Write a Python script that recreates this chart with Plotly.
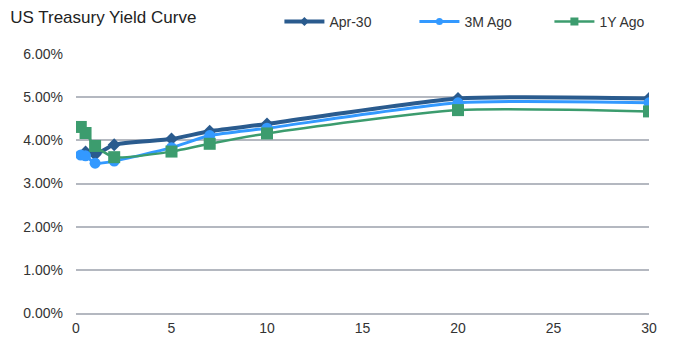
import plotly.graph_objects as go

# Maturities in years
tenor_apr = [0.5, 1, 2, 5, 7, 10, 20, 30]
tenor_3m = [0.25, 0.5, 1, 2, 5, 7, 10, 20, 30]
tenor_1y = [0.25, 0.5, 1, 2, 5, 7, 10, 20, 30]

# Yields (%)
yield_apr = [3.73, 3.67, 3.90, 4.03, 4.21, 4.38, 4.97, 4.97]
yield_3m = [3.66, 3.64, 3.47, 3.52, 3.83, 4.11, 4.28, 4.87, 4.87]
yield_1y = [4.31, 4.17, 3.87, 3.61, 3.74, 3.92, 4.16, 4.70, 4.67]

series = [
    ("Apr-30", tenor_apr, yield_apr, "#2A5B8E", 4, "diamond", 10, 7),
    ("3M Ago", tenor_3m, yield_3m, "#3399FF", 3, "circle", 11, 7),
    ("1Y Ago", tenor_1y, yield_1y, "#3C9C6E", 2.5, "square", 12, 8),
]

fig = go.Figure()
for name, xs, ys, color, lw, sym, msize, legsize in series:
    fig.add_trace(go.Scatter(
        x=xs, y=ys, name=name, mode="lines+markers", showlegend=False,
        line=dict(color=color, width=lw, shape="spline", smoothing=0.6),
        marker=dict(symbol=sym, size=msize, color=color),
    ))
    # legend entry with a smaller marker
    fig.add_trace(go.Scatter(
        x=[None], y=[None], name=name, mode="lines+markers",
        line=dict(color=color, width=lw),
        marker=dict(symbol=sym, size=legsize, color=color),
    ))

fig.update_layout(
    width=681, height=338,
    margin=dict(l=76, r=32, t=54, b=25, autoexpand=False),
    paper_bgcolor="white", plot_bgcolor="white",
    font=dict(family="Liberation Sans, Arial, sans-serif", size=14, color="#333333"),
    title=dict(text="US Treasury Yield Curve", x=0.015, xanchor="left",
               y=0.95, yanchor="middle",
               font=dict(family="Liberation Sans Narrow, Liberation Sans, sans-serif", size=17, color="#222222")),
    legend=dict(orientation="h", x=0.355, xanchor="left", y=0.935, yanchor="middle",
                yref="container", font=dict(size=14, color="#333333",
                family="Liberation Sans Narrow, Liberation Sans, sans-serif"),
                itemwidth=40, entrywidth=80, entrywidthmode="pixels", tracegroupgap=0),
    showlegend=True,
)
fig.update_xaxes(range=[0, 30], tick0=0, dtick=5, showgrid=False, zeroline=False,
                 showline=True, linecolor="#B4B8C0", linewidth=1.5, ticks="",
                 automargin=False, ticklabelstandoff=1,
                 tickfont=dict(size=14, color="#333333"))
fig.update_yaxes(range=[0, 6], dtick=1, showgrid=True, gridcolor="#B4B8C0", gridwidth=1.5,
                 zeroline=False, ticksuffix=".00%", tickformat="d", ticklabelstandoff=12,
                 automargin=False, tickfont=dict(size=14, color="#333333"))

fig.write_html("out.html")
